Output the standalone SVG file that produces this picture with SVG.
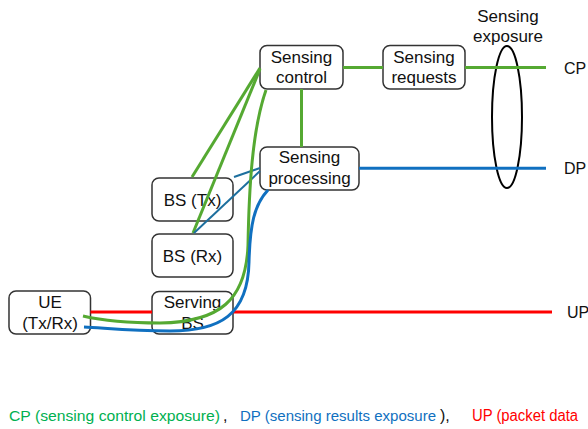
<svg xmlns="http://www.w3.org/2000/svg" width="588" height="429" viewBox="0 0 588 429">
<style>
.box{fill:#fff;stroke:#333;stroke-width:1.5}
.t{font-family:"Liberation Sans",Arial,sans-serif;font-size:17px;fill:#111;text-anchor:middle}
.lbl{font-family:"Liberation Sans",Arial,sans-serif;font-size:16px;fill:#111}
.g{stroke:#55a932;stroke-width:3;fill:none}
.b{stroke:#1070c0;stroke-width:3;fill:none}
.bt{stroke:#1d6f9e;stroke-width:2;fill:none}
.r{stroke:#ff0000;stroke-width:3;fill:none}
.leg{font-family:"Liberation Sans",Arial,sans-serif;font-size:16px}
</style>
<rect width="588" height="429" fill="#fff"/>
<g id="sensing-control"><rect class="box" x="260" y="45.5" width="83" height="43.5" rx="7"/><text class="t" x="301.5" y="63">Sensing</text><text class="t" x="301.5" y="83">control</text></g>
<g id="sensing-requests"><rect class="box" x="383" y="45.5" width="82" height="43.5" rx="7"/><text class="t" x="424" y="63">Sensing</text><text class="t" x="424" y="83">requests</text></g>
<g id="sensing-processing"><rect class="box" x="260" y="147" width="99" height="43" rx="7"/><text class="t" x="309.5" y="163">Sensing</text><text class="t" x="309.5" y="184">processing</text></g>
<g id="bs-tx"><rect class="box" x="152" y="178" width="81" height="43" rx="7"/><text class="t" x="192.5" y="206">BS (Tx)</text></g>
<g id="bs-rx"><rect class="box" x="152" y="234" width="81" height="43" rx="7"/><text class="t" x="192.5" y="262">BS (Rx)</text></g>
<g id="serving-bs"><rect class="box" x="152" y="291.5" width="81" height="42.5" rx="7"/><text class="t" x="192.5" y="308">Serving</text><text class="t" x="192.5" y="329">BS</text></g>
<g id="ue"><rect class="box" x="9" y="291" width="81.5" height="43" rx="7"/><text class="t" x="50" y="308">UE</text><text class="t" x="50" y="329">(Tx/Rx)</text></g>
<g id="sensing-exposure"><ellipse cx="507" cy="117" rx="15" ry="71" fill="none" stroke="#000" stroke-width="2"/><text class="t" x="508" y="22">Sensing</text><text class="t" x="508" y="42">exposure</text></g>
<g id="connectors">
<line class="g" x1="343" y1="67.5" x2="383" y2="67.5"/>
<line class="g" x1="465" y1="67.5" x2="546" y2="67.5"/>
<line class="g" x1="301.5" y1="89" x2="301.5" y2="147"/>
<line class="b" x1="359" y1="168.3" x2="546" y2="168.3"/>
<line class="r" x1="90.5" y1="312" x2="152" y2="312"/>
<line class="r" x1="233" y1="312" x2="552" y2="312"/>
<line class="g" x1="260" y1="68" x2="192" y2="177"/>
<line class="g" x1="260" y1="69" x2="193" y2="233"/>
<line class="bt" x1="260" y1="168" x2="234" y2="177"/>
<line class="bt" x1="260" y1="171" x2="194" y2="233"/>
<path class="g" d="M266,90 C252,130 249,190 248,245 C246,300 220,322 160,323 C125,323 100,320 83,316"/>
<path class="b" d="M268,190 C254,205 250,225 249,262 C248,315 220,331 170,331 C130,331 105,328 84,327"/>
</g>
<g id="labels">
<text class="lbl" x="564" y="74">CP</text>
<text class="lbl" x="564" y="174">DP</text>
<text class="lbl" x="567" y="318">UP</text>
</g>
<g id="legend">
<text class="leg" x="9" y="421" fill="#00b050" style="font-size:15.5px" textLength="211" lengthAdjust="spacingAndGlyphs">CP (sensing control exposure)</text>
<text class="leg" x="223" y="421" fill="#111">,</text>
<text class="leg" x="240" y="421" fill="#1070c0" style="font-size:15px" textLength="196" lengthAdjust="spacingAndGlyphs">DP (sensing results exposure</text>
<text class="leg" x="440" y="421" fill="#111">),</text>
<text class="leg" x="472" y="421" fill="#ff0000" textLength="106" lengthAdjust="spacingAndGlyphs">UP (packet data</text>
</g>
</svg>
